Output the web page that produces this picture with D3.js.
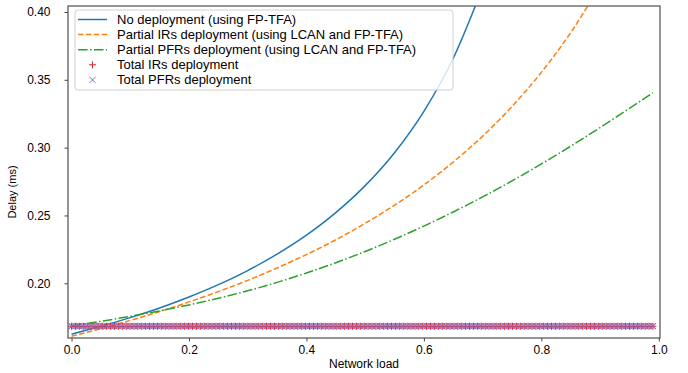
<!DOCTYPE html>
<html lang="en">
<head>
  <meta charset="UTF-8" />
  <title>Delay vs network load</title>
  <script src="https://d3js.org/d3.v7.min.js"></script>
  <style>
    body { margin: 0; background: #fff; }
    svg { display: block; font-family: "Liberation Sans", Arial, sans-serif; }
    .tick text { font-size: 12px; fill: #000; }
    .tick line { stroke: #444; }
    .domain { display: none; }
  </style>
</head>
<body>
  <svg width="688" height="373"></svg>

  <script>
    const width = 688;
    const height = 373;
    const margin = { top: 6, right: 28, bottom: 35, left: 68 };

    // network load samples for the curves
    const loads = [0, 0.05, 0.1, 0.15, 0.2, 0.25, 0.3, 0.35, 0.4, 0.45, 0.5,
                   0.55, 0.6, 0.65, 0.7, 0.75, 0.8, 0.85, 0.9, 0.95, 0.99];

    // delay (ms)
    const noDeployment = [0.1625, 0.1683, 0.1747, 0.1818, 0.1899, 0.199, 0.2094, 0.2215, 0.2355, 0.2521, 0.272,
                          0.2963, 0.3268, 0.3659, 0.418];
    const partialIRs = [0.161, 0.1666, 0.1727, 0.1792, 0.1863, 0.1939, 0.2022, 0.2113, 0.2212, 0.2321, 0.2442,
                        0.2576, 0.2725, 0.2894, 0.3085, 0.3303, 0.3555, 0.3848, 0.4196];
    const partialPFRs = [0.1685, 0.172, 0.1757, 0.1797, 0.1841, 0.189, 0.1945, 0.2007, 0.2076, 0.2152, 0.2235,
                         0.2325, 0.2422, 0.2526, 0.2637, 0.2755, 0.288, 0.3011, 0.3148, 0.329, 0.3405];

    // total deployment: flat delay over the whole load range
    const totalLoads = d3.range(150).map(i => i * 0.99 / 149);
    const totalIRsDelay = 0.1684;
    const totalPFRsDelay = 0.1684;

    const xTicks = [0, 0.2, 0.4, 0.6, 0.8, 1.0];
    const yTicks = [0.20, 0.25, 0.30, 0.35, 0.40];

    const series = [
      { name: "No deployment (using FP-TFA)", values: noDeployment, color: "#1f77b4", dash: null },
      { name: "Partial IRs deployment (using LCAN and FP-TFA)", values: partialIRs, color: "#ff7f0e", dash: "5.5,2.4" },
      { name: "Partial PFRs deployment (using LCAN and FP-TFA)", values: partialPFRs, color: "#2ca02c", dash: "9.6,2.4,1.5,2.4" }
    ];

    const svg = d3.select("svg");

    const x = d3.scaleLinear().domain([-0.006, 1.002]).range([margin.left, width - margin.right]);
    const y = d3.scaleLinear().domain([0.1597, 0.4044]).range([height - margin.bottom, margin.top]);

    svg.append("clipPath").attr("id", "plot")
      .append("rect")
      .attr("x", margin.left).attr("y", margin.top)
      .attr("width", width - margin.left - margin.right)
      .attr("height", height - margin.top - margin.bottom);

    // axes
    svg.append("g")
      .attr("transform", `translate(0,${height - margin.bottom})`)
      .call(d3.axisBottom(x).tickValues(xTicks).tickFormat(d3.format(".1f")).tickSize(3.5).tickPadding(4));

    svg.append("g")
      .attr("transform", `translate(${margin.left},0)`)
      .call(d3.axisLeft(y).tickValues(yTicks).tickFormat(d3.format(".2f")).tickSize(3.5).tickPadding(14));

    const plot = svg.append("g").attr("clip-path", "url(#plot)");

    const line = d3.line()
      .x((d, i) => x(loads[i]))
      .y(d => y(d))
      .curve(d3.curveMonotoneX);

    series.forEach(s => {
      plot.append("path")
        .attr("d", line(s.values))
        .attr("fill", "none")
        .attr("stroke", s.color)
        .attr("stroke-width", 1.5)
        .attr("stroke-dasharray", s.dash);
    });

    // + markers
    plot.selectAll(".plus")
      .data(totalLoads)
      .enter()
      .append("path")
      .attr("class", "plus")
      .attr("d", d => `M${x(d) - 3.5},${y(totalIRsDelay)}h7M${x(d)},${y(totalIRsDelay) - 3.5}v7`)
      .attr("stroke", "#d62728")
      .attr("stroke-width", 1.1);

    // x markers
    plot.selectAll(".cross")
      .data(totalLoads)
      .enter()
      .append("path")
      .attr("class", "cross")
      .attr("d", d => {
        const cx = x(d), cy = y(totalPFRsDelay);
        return `M${cx - 3},${cy - 3}l6,6M${cx - 3},${cy + 3}l6,-6`;
      })
      .attr("stroke", "#9467bd")
      .attr("stroke-width", 1.1);

    // frame
    svg.append("rect")
      .attr("x", margin.left).attr("y", margin.top)
      .attr("width", width - margin.left - margin.right)
      .attr("height", height - margin.top - margin.bottom)
      .attr("fill", "none")
      .attr("stroke", "#555")
      .attr("stroke-width", 1.25);

    // axis labels
    svg.append("text")
      .attr("x", (margin.left + width - margin.right) / 2)
      .attr("y", 368)
      .attr("text-anchor", "middle")
      .attr("font-size", 12)
      .text("Network load");

    svg.append("text")
      .attr("transform", "translate(16,192) rotate(-90)")
      .attr("text-anchor", "middle")
      .attr("font-size", 11)
      .text("Delay (ms)");

    // legend
    const legend = svg.append("g");
    legend.append("rect")
      .attr("x", 75).attr("y", 10)
      .attr("width", 378).attr("height", 80)
      .attr("rx", 3)
      .attr("fill", "#fff").attr("fill-opacity", 0.8)
      .attr("stroke", "#d0d0d0");

    const rows = series.map(s => ({ name: s.name, kind: "line", color: s.color, dash: s.dash }))
      .concat([
        { name: "Total IRs deployment", kind: "plus", color: "#d62728" },
        { name: "Total PFRs deployment", kind: "cross", color: "#9467bd" }
      ]);

    rows.forEach((r, i) => {
      const ry = 19.5 + i * 15.1;
      if (r.kind === "line") {
        legend.append("line")
          .attr("x1", 78).attr("x2", 107)
          .attr("y1", ry).attr("y2", ry)
          .attr("stroke", r.color).attr("stroke-width", 1.5)
          .attr("stroke-dasharray", r.dash);
      } else if (r.kind === "plus") {
        legend.append("path")
          .attr("d", `M89,${ry}h7M92.5,${ry - 3.5}v7`)
          .attr("stroke", r.color);
      } else {
        legend.append("path")
          .attr("d", `M89.5,${ry - 3}l6,6M89.5,${ry + 3}l6,-6`)
          .attr("stroke", r.color);
      }
      legend.append("text")
        .attr("x", 117).attr("y", ry)
        .attr("dy", "0.35em")
        .attr("font-size", 13)
        .text(r.name);
    });
  </script>
</body>
</html>
